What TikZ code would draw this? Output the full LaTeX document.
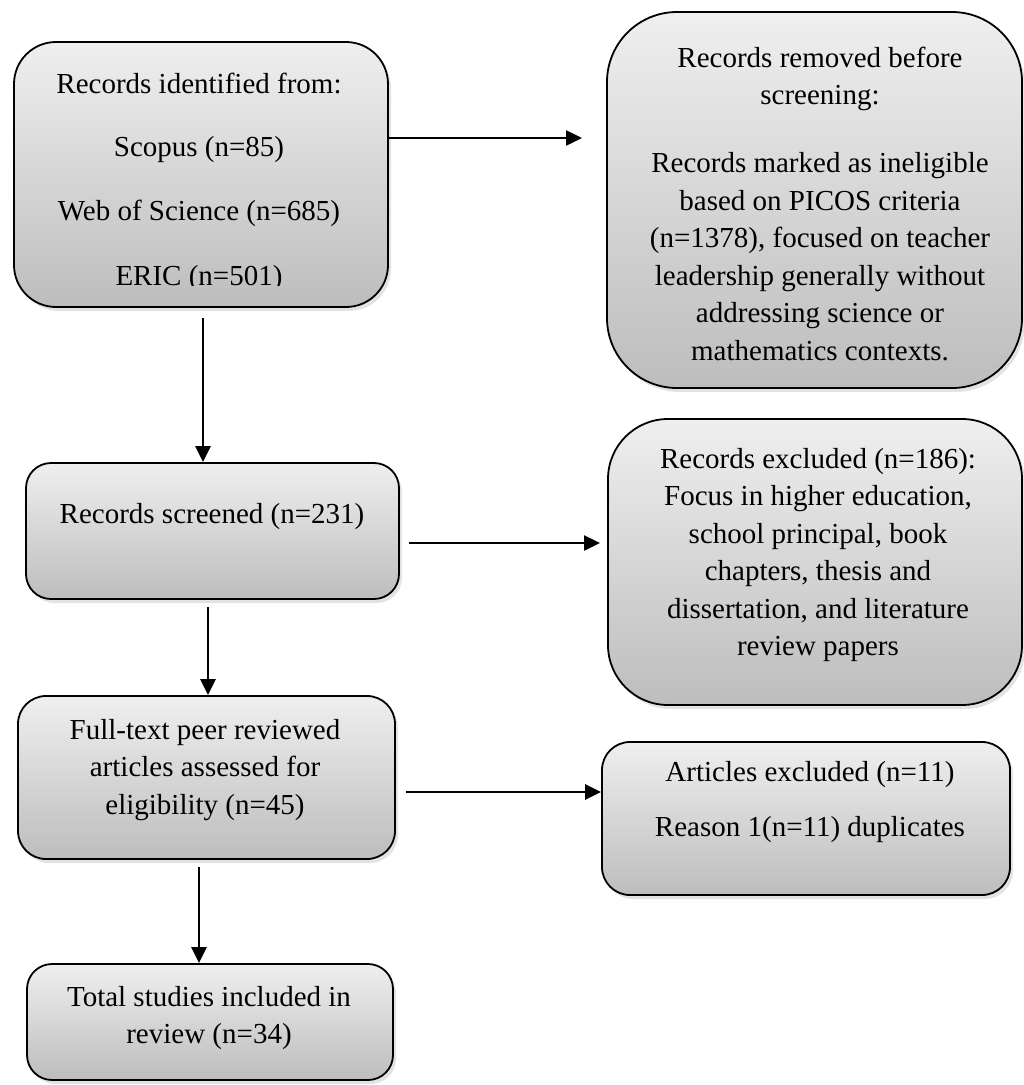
\documentclass[tikz,border=0pt]{standalone}
\usepackage{fontspec}
\setmainfont{Liberation Serif}
\usetikzlibrary{arrows.meta,shadows}
\definecolor{boxtop}{HTML}{EFEFEF}
\definecolor{boxbot}{HTML}{BDBDBD}
\tikzset{
 box/.style={draw=black, line width=1.8pt, top color=boxtop, bottom color=boxbot,
   drop shadow={opacity=0.22, shadow xshift=3pt, shadow yshift=-4pt}, inner sep=0pt},
 txt/.style={align=center, font=\fontsize{29}{37.5}\selectfont, inner sep=0pt},
 conn/.style={line width=2.5pt, -{Triangle[length=16pt,width=15pt]}},
}
\begin{document}
\begin{tikzpicture}[x=1pt,y=-1pt]
\useasboundingbox (0,0) rectangle (1024,1085);
% boxes
\node[box, rounded corners=42pt, minimum width=374pt, minimum height=265pt] (A) at (201,174.5) {};
\node[box, rounded corners=70pt, minimum width=415pt, minimum height=376pt] (B) at (814.5,200) {};
\node[box, rounded corners=25pt, minimum width=373pt, minimum height=136pt] (C) at (212.5,531) {};
\node[box, rounded corners=60pt, minimum width=414pt, minimum height=286pt] (D) at (815,562) {};
\node[box, rounded corners=28pt, minimum width=377pt, minimum height=163pt] (E) at (206.5,777.5) {};
\node[box, rounded corners=28pt, minimum width=408pt, minimum height=153pt] (F) at (806,818.5) {};
\node[box, rounded corners=25pt, minimum width=366pt, minimum height=116pt] (G) at (210,1022) {};
% texts
\node[txt] (a1) at (199,83) {Records identified from:};
\node[txt] (a2) at (199,150) {Scopus (n=85)};
\node[txt] (a3) at (199,213) {Web of Science (n=685)};
\begin{scope}
\clip (14,0) rectangle (388,285);
\node[txt] (a4) at (199,279) {ERIC (n=501)};
\end{scope}
\node[txt] (b1) at (820,79) {Records removed before\\screening:};
\node[txt] (b2) at (820,256.5) {Records marked as ineligible\\based on PICOS criteria\\(n=1378), focused on teacher\\leadership generally without\\addressing science or\\mathematics contexts.};
\node[txt] (c1) at (212,517) {Records screened (n=231)};
\node[txt] (d1) at (818,555) {Records excluded (n=186):\\Focus in higher education,\\school principal, book\\chapters, thesis and\\dissertation, and literature\\review papers};
\node[txt] (e1) at (205,770) {Full-text peer reviewed\\articles assessed for\\eligibility (n=45)};
\node[txt] (f1) at (810,775) {Articles excluded (n=11)};
\node[txt] (f2) at (810,830) {Reason 1(n=11) duplicates};
\node[txt] (g1) at (209,1018) {Total studies included in\\review (n=34)};
% connector end points
\coordinate (ab) at (582,138);
\coordinate (ac) at (203,318);
\coordinate (cd1) at (409,543);
\coordinate (cd2) at (600,543);
\coordinate (ce) at (208,607);
\coordinate (ef) at (406,792);
\coordinate (eg) at (199,867);
% connectors
\draw[conn] (A.east |- ab) -- (ab);
\draw[conn] (ac) -- (ac |- C.north);
\draw[conn] (cd1) -- (cd2);
\draw[conn] (ce) -- (ce |- E.north);
\draw[conn] (ef) -- (F.west |- ef);
\draw[conn] (eg) -- (eg |- G.north);
\end{tikzpicture}
\end{document}
